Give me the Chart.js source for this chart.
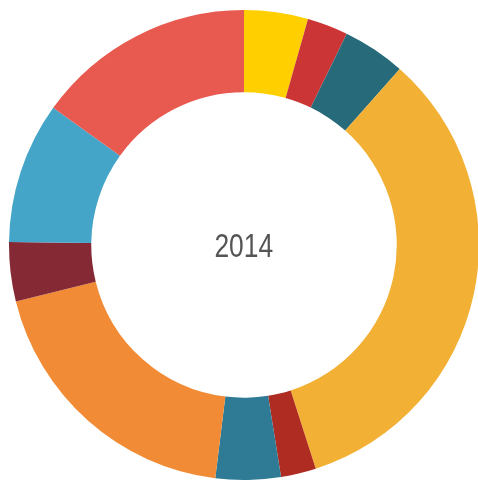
<!DOCTYPE html>
<html>
<head>
<meta charset="utf-8">
<script src="https://cdn.jsdelivr.net/npm/chart.js@4/dist/chart.umd.min.js"></script>
<style>
  html, body { margin: 0; padding: 0; background: #ffffff; width: 478px; height: 481px; overflow: hidden; }
  #wrap { position: absolute; left: 9px; top: 10px; width: 470px; height: 470px; }
  #center { position: absolute; left: 0; top: 224px; width: 488px; text-align: center;
    font-family: "Liberation Sans", Arial, sans-serif;
    font-size: 33px; color: #555555; line-height: 44px;
    transform: scaleX(0.8); transform-origin: 243px 0; }
</style>
</head>
<body>
<div id="wrap"><canvas id="c" width="470" height="470"></canvas></div>
<div id="center">2014</div>
<script>
const categories = ["Segment 1", "Segment 2", "Segment 3", "Segment 4", "Segment 5",
                    "Segment 6", "Segment 7", "Segment 8", "Segment 9", "Segment 10"];
const values = [4.39, 2.81, 4.33, 33.53, 2.42, 4.47, 19.19, 4.06, 9.72, 15.08];
const colors = ["#FFCF00", "#CC3535", "#276B7A", "#F2B035", "#AF2C22",
                "#2F7A95", "#F28B35", "#852A35", "#44A5C8", "#E85A50"];

new Chart(document.getElementById("c"), {
  type: "doughnut",
  data: {
    labels: categories,
    datasets: [{ data: values, backgroundColor: colors, borderWidth: 0, hoverOffset: 0 }]
  },
  options: {
    responsive: false,
    animation: false,
    cutout: "65%",
    layout: { padding: 0 },
    plugins: { legend: { display: false }, tooltip: { enabled: false } }
  }
});
</script>
</body>
</html>
